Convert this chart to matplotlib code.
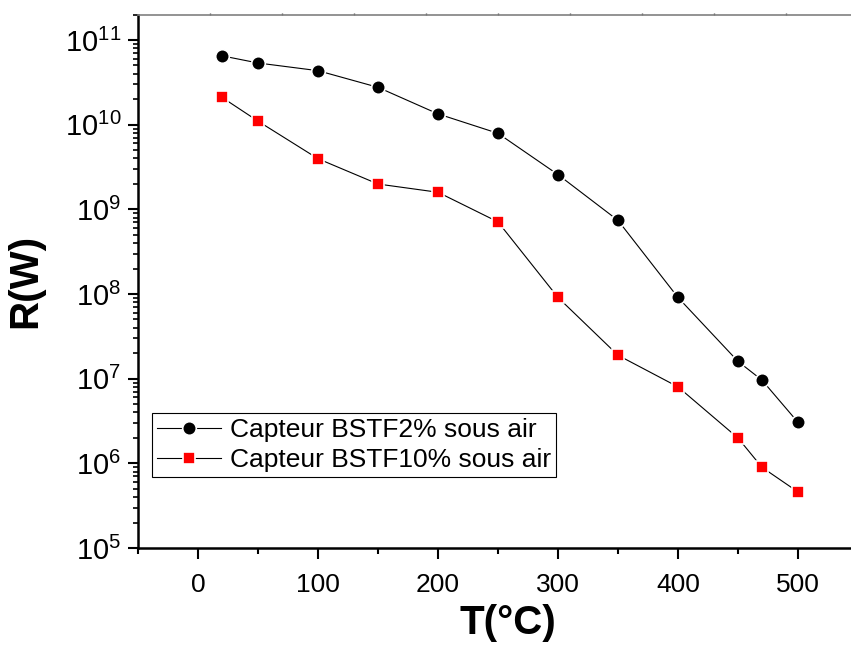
import numpy as np
import matplotlib
matplotlib.use("Agg")
import matplotlib.pyplot as plt
from matplotlib.ticker import LogLocator, FuncFormatter, NullFormatter

plt.rcParams['font.family'] = ['Liberation Sans', 'DejaVu Sans']
plt.rcParams['mathtext.fontset'] = 'custom'
plt.rcParams['mathtext.rm'] = 'Liberation Sans'
plt.rcParams['mathtext.it'] = 'Liberation Sans:italic'
plt.rcParams['mathtext.bf'] = 'Liberation Sans:bold'

# temperatures (°C)
temp = [20, 50, 100, 150, 200, 250, 300, 350, 400, 450, 470, 500]
# resistance, BSTF 2%
r_bstf2 = [6.5e10, 5.35e10, 4.34e10, 2.76e10, 1.34e10, 7.9e9,
           2.57e9, 7.4e8, 9.1e7, 1.6e7, 9.6e6, 3.05e6]
# resistance, BSTF 10%
r_bstf10 = [2.1e10, 1.1e10, 3.96e9, 1.99e9, 1.59e9, 7.1e8,
            9.1e7, 1.89e7, 8.0e6, 1.99e6, 8.97e5, 4.59e5]
labels = ['Capteur BSTF2% sous air', 'Capteur BSTF10% sous air']
xticks = [0, 100, 200, 300, 400, 500]
xminor = [-50, 50, 150, 250, 350, 450, 550]

W, H = 851, 645
fig = plt.figure(figsize=(W / 100, H / 100), dpi=100)
ax = fig.add_axes([138 / W, (H - 548) / H, (858 - 138) / W, (548 - 14.5) / H])

ax.plot(temp, r_bstf2, '-o', color='black', lw=0.8, ms=9.8,
        mfc='black', mec='white', mew=1.2, label=labels[0])
ax.plot(temp, r_bstf10, '-s', color='black', lw=0.8, ms=9.2,
        mfc='red', mec='white', mew=1.2, label=labels[1])

ax.set_yscale('log')
ax.set_xlim(-50, 550)
ax.set_ylim(1e5, 2e11)

ax.set_xticks(xticks)
ax.set_xticks(xminor, minor=True)
ax.yaxis.set_major_locator(LogLocator(base=10, numticks=20))
ax.yaxis.set_minor_locator(LogLocator(base=10, subs=np.arange(2, 10), numticks=20))
ax.yaxis.set_minor_formatter(NullFormatter())
ax.yaxis.set_major_formatter(FuncFormatter(
    lambda v, p: r'$\mathregular{10^{%d}}$' % round(np.log10(v))))

ax.tick_params(axis='x', which='major', direction='out', length=8, width=1.5,
               labelsize=19, pad=10, top=False)
ax.tick_params(axis='x', which='minor', direction='out', length=4, width=1.5, top=False)
ax.tick_params(axis='y', which='major', direction='out', length=7, width=1.5,
               labelsize=21, pad=5, right=False)
ax.tick_params(axis='y', which='minor', direction='out', length=3.6, width=1.2, right=False)

for s in ['left', 'bottom']:
    ax.spines[s].set_linewidth(1.8)
ax.spines['right'].set_visible(False)
ax.spines['top'].set_color('#808080')
ax.spines['top'].set_linewidth(1.2)

# faint ticks on the grey top border
sec = ax.secondary_xaxis('top')
sec.set_xticks(np.arange(10, 550, 60))
sec.tick_params(direction='inout', length=2, width=1, color='#555555', labeltop=False)
sec.spines['top'].set_visible(False)

ax.set_xlabel('T(°C)', fontsize=29, fontweight='bold')
ax.xaxis.set_label_coords(0.514, -0.105)
ax.set_ylabel('R(W)', fontsize=29, fontweight='bold')
ax.yaxis.set_label_coords(-0.13, 0.5)

leg = ax.legend(loc='upper left', bbox_to_anchor=(152 / W, 1 - 413 / H),
                bbox_transform=fig.transFigure, fontsize=19, frameon=True,
                fancybox=False, framealpha=1, edgecolor='black',
                borderaxespad=0, borderpad=0.2, labelspacing=0.22,
                handlelength=2.4, handletextpad=0.35)
leg.get_frame().set_linewidth(0.8)

fig.savefig('out.png', dpi=100)
